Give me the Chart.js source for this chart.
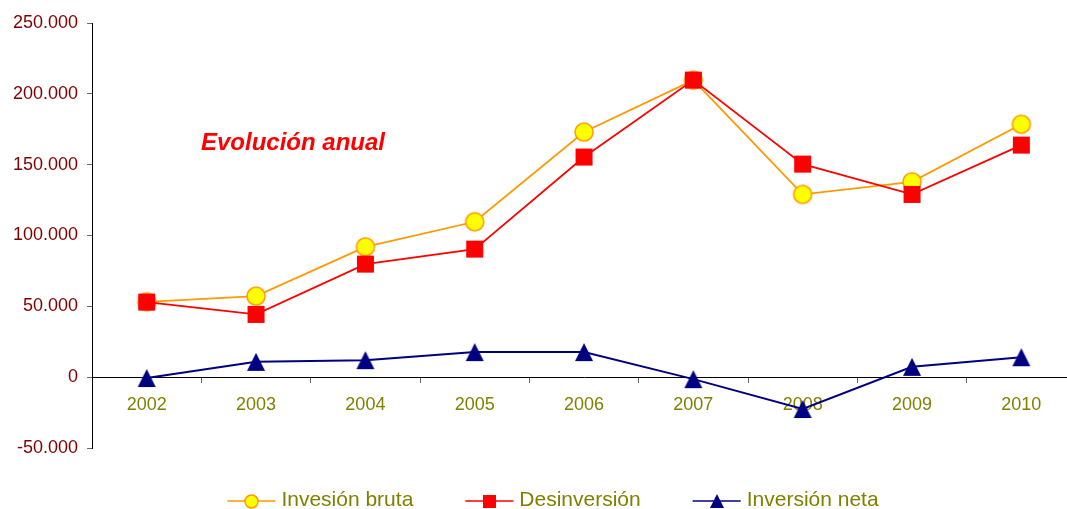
<!DOCTYPE html>
<html>
<head>
<meta charset="utf-8">
<script src="https://cdn.jsdelivr.net/npm/chart.js@4.4.1/dist/chart.umd.min.js"></script>
<style>
  html, body { margin: 0; padding: 0; background: #fff; overflow: hidden; }
</style>
</head>
<body>
<canvas id="myChart" width="1090" height="509"></canvas>
<script>
// datos
const years = ["2002", "2003", "2004", "2005", "2006", "2007", "2008", "2009", "2010"];
const inversionBruta = [53200, 57200, 92000, 109700, 173000, 209700, 129000, 137900, 178500];
const desinversion = [53000, 44300, 79800, 90400, 155400, 209700, 150400, 129000, 163800];
const inversionNeta = [-600, 10800, 12000, 17700, 17700, -1400, -22500, 7300, 14100];
const seriesNames = ["Invesión bruta", "Desinversión", "Inversión neta"];
const yTicks = [-50000, 0, 50000, 100000, 150000, 200000, 250000];

const fontFamily = "'Liberation Sans', Arial, sans-serif";

//marcador dibujado en un canvas pequeño
function makeMarker(shape, size, fill, stroke, lineW) {
  const c = document.createElement("canvas");
  c.width = size + 4;
  c.height = size + 4;
  const g = c.getContext("2d");
  const m = c.width / 2;
  g.fillStyle = fill;
  g.strokeStyle = stroke;
  g.lineWidth = lineW;
  g.beginPath();
  if (shape === "circle") {
    g.arc(m, m, size / 2, 0, Math.PI * 2);
  } else if (shape === "rect") {
    g.rect(m - size / 2, m - size / 2, size, size);
  } else {
    g.moveTo(m, m - size / 2);
    g.lineTo(m + size / 2, m + size / 2);
    g.lineTo(m - size / 2, m + size / 2);
    g.closePath();
  }
  g.fill();
  if (lineW) g.stroke();
  return c;
}

const colors = ["#FF9900", "#FF0000", "#000080"];
const chartMarkers = [
  makeMarker("circle", 18, "#FFFF00", "#FF9900", 1.5),
  makeMarker("rect", 17, "#FF0000", "#FF0000", 0),
  makeMarker("triangle", 18, "#000080", "#000080", 0),
];
const legendMarkers = [
  makeMarker("circle", 13, "#FFFF00", "#FF9900", 1.5),
  makeMarker("rect", 13, "#FF0000", "#FF0000", 0),
  makeMarker("triangle", 14, "#000080", "#000080", 0),
];

function formatMiles(v) {
  let s = String(Math.abs(v)).replace(/\B(?=(\d{3})+(?!\d))/g, ".");
  return v < 0 ? "-" + s : s;
}

//titulo dentro del gráfico
const titlePlugin = {
  id: "tituloInterior",
  afterDraw(chart) {
    const ctx = chart.ctx;
    ctx.save();
    ctx.font = "italic bold 24px " + fontFamily;
    ctx.fillStyle = "#FF0000";
    ctx.textBaseline = "middle";
    ctx.textAlign = "left";
    ctx.fillText("Evolución anual", 201, 143);
    ctx.restore();
  },
};

//leyenda con línea y marcador
const legendPlugin = {
  id: "leyendaLinea",
  afterDraw(chart) {
    const ctx = chart.ctx;
    ctx.save();
    ctx.font = "21px " + fontFamily;
    const lineLen = 48;
    const gapText = 6;
    const gapItem = 52;
    const widths = seriesNames.map((n) => ctx.measureText(n).width);
    let total = widths.reduce((a, b) => a + b, 0) + seriesNames.length * (lineLen + gapText) + gapItem * (seriesNames.length - 1);
    let x = 553 - total / 2;
    const lineY = 501;
    seriesNames.forEach((name, i) => {
      ctx.strokeStyle = colors[i];
      ctx.lineWidth = 1.5;
      ctx.beginPath();
      ctx.moveTo(x, lineY);
      ctx.lineTo(x + lineLen, lineY);
      ctx.stroke();
      const mk = legendMarkers[i];
      ctx.drawImage(mk, Math.round(x + lineLen / 2 - mk.width / 2), Math.round(lineY - mk.height / 2));
      ctx.fillStyle = "#808000";
      ctx.textBaseline = "alphabetic";
      ctx.fillText(name, x + lineLen + gapText, 506);
      x += lineLen + gapText + widths[i] + gapItem;
    });
    ctx.restore();
  },
};

const data = {
  labels: years,
  datasets: [
    {
      label: seriesNames[0],
      data: inversionBruta,
      borderColor: colors[0],
      borderWidth: 1.75,
      pointStyle: chartMarkers[0],
      pointRadius: 9,
      order: 1,
    },
    {
      label: seriesNames[1],
      data: desinversion,
      borderColor: colors[1],
      borderWidth: 1.75,
      pointStyle: chartMarkers[1],
      pointRadius: 9,
      order: 0,
    },
    {
      label: seriesNames[2],
      data: inversionNeta,
      borderColor: colors[2],
      borderWidth: 2,
      pointStyle: chartMarkers[2],
      pointRadius: 9,
      order: 2,
    },
  ],
};

const config = {
  type: "line",
  data: data,
  options: {
    responsive: false,
    animation: false,
    devicePixelRatio: 1,
    layout: {
      padding: { left: 4, right: 14, top: 23, bottom: 61 },
    },
    plugins: {
      legend: { display: false },
      tooltip: { enabled: false },
    },
    elements: {
      line: { tension: 0, fill: false },
    },
    scales: {
      x: {
        position: { y: 0 },
        offset: true,
        grid: {
          drawOnChartArea: false,
          drawTicks: true,
          tickLength: 5,
          color: "#666",
          offset: true,
        },
        border: { color: "#000", width: 1 },
        ticks: {
          color: "#808000",
          font: { family: fontFamily, size: 18 },
          padding: 12,
          maxRotation: 0,
        },
      },
      y: {
        min: -50000,
        max: 250000,
        afterBuildTicks: (axis) => {
          axis.ticks = yTicks.map((v) => ({ value: v }));
        },
        grid: {
          drawOnChartArea: false,
          drawTicks: true,
          tickLength: 5,
          color: "#666",
        },
        border: { color: "#000", width: 1 },
        ticks: {
          color: "#800000",
          font: { family: fontFamily, size: 18 },
          padding: 9,
          callback: (v) => formatMiles(v),
        },
      },
    },
  },
  plugins: [titlePlugin, legendPlugin],
};

const myChart = new Chart(document.getElementById("myChart"), config);
</script>
</body>
</html>
